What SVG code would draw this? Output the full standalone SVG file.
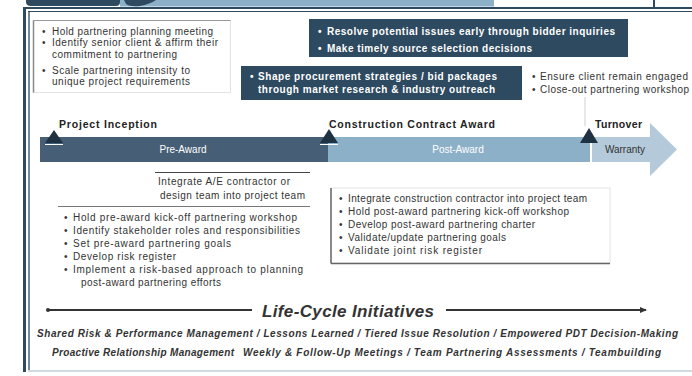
<svg xmlns="http://www.w3.org/2000/svg" width="692" height="376" viewBox="0 0 692 376">
<style>
text{font-family:"Liberation Sans",Arial,sans-serif;}
.t{font-size:10px;fill:#333;}
.w{font-size:10px;fill:#fff;font-weight:bold;}
.ms{font-size:10.5px;fill:#222;font-weight:bold;}
.bar{font-size:10px;fill:#fff;}
.li{font-size:10px;fill:#333;font-style:italic;font-weight:bold;}
.tri{fill:#1e3244;}
</style>
<defs>
<marker id="ah" markerWidth="8" markerHeight="8" refX="6" refY="4" orient="auto" markerUnits="userSpaceOnUse">
<path d="M0,1 L7,4 L0,7 Z" fill="#333"/>
</marker>
</defs>
<rect width="692" height="376" fill="#fff"/>
<g id="frame">
<rect x="120" y="0" width="374" height="6.5" fill="#8db0c9"/>
<path d="M26,0 H120 V2 Q120,6 116,6 H31 Q26,6 26,2 Z" fill="#2d4a60"/>
<path d="M124,0 H156 Q150,4 140,6 Q130,7 126,4 Z" fill="#2d4a60"/>
<line x1="654" y1="0" x2="654" y2="8" stroke="#2d4a60" stroke-width="2"/>
<line x1="23" y1="8" x2="692" y2="8" stroke="#2d4a60" stroke-width="2"/>
<line x1="28" y1="11.5" x2="692" y2="11.5" stroke="#2d4a60" stroke-width="1"/>
<line x1="24.5" y1="7" x2="24.5" y2="372" stroke="#2d4a60" stroke-width="3"/>
<line x1="29" y1="11" x2="29" y2="371" stroke="#2d4a60" stroke-width="1.3"/>
<line x1="28" y1="371" x2="692" y2="371" stroke="#d2dae0" stroke-width="2"/>
</g>
<g id="box-planning">
<rect x="33.5" y="20.5" width="197" height="72" fill="#fff" stroke="#e2e2e2"/>
<line x1="33.5" y1="20.5" x2="230.5" y2="20.5" stroke="#999"/>
<line x1="33.5" y1="20.5" x2="33.5" y2="92.5" stroke="#888" stroke-width="1.5"/>
<text class="t" x="42" y="35">•</text><text class="t" x="52" y="35" textLength="161">Hold partnering planning meeting</text>
<text class="t" x="42" y="46">•</text><text class="t" x="52" y="46" textLength="166">Identify senior client &amp; affirm their</text>
<text class="t" x="52" y="57.5" textLength="125">commitment to partnering</text>
<text class="t" x="42" y="73.5">•</text><text class="t" x="52" y="73.5" textLength="138">Scale partnering intensity to</text>
<text class="t" x="52" y="85" textLength="138">unique project requirements</text>
</g>
<g id="box-bidding">
<rect x="309" y="19" width="319" height="38" fill="#2d4a60"/>
<text class="w" x="318" y="34.5">•</text><text class="w" x="327" y="34.5" textLength="288">Resolve potential issues early through bidder inquiries</text>
<text class="w" x="318" y="51.5">•</text><text class="w" x="327" y="51.5" textLength="205">Make timely source selection decisions</text>
</g>
<g id="box-procurement">
<rect x="241" y="66" width="281" height="34" fill="#2d4a60"/>
<text class="w" x="250" y="79.5">•</text><text class="w" x="258" y="79.5" textLength="239">Shape procurement strategies / bid packages</text>
<text class="w" x="258" y="92.5" textLength="237">through market research &amp; industry outreach</text>
</g>
<g id="closeout-notes">
<text class="t" x="532" y="79.5">•</text><text class="t" x="540" y="79.5" textLength="148">Ensure client remain engaged</text>
<text class="t" x="532" y="92.5">•</text><text class="t" x="540" y="92.5" textLength="149">Close-out partnering workshop</text>
</g>
<g id="connectors">
<line x1="585" y1="97" x2="585" y2="126" stroke="#cfcfcf" stroke-width="1"/>
<line x1="155" y1="172.5" x2="310" y2="172.5" stroke="#444" stroke-width="1"/>
<line x1="58" y1="206.5" x2="310" y2="206.5" stroke="#777" stroke-width="1"/>
<line x1="48" y1="310" x2="252" y2="310" stroke="#333" stroke-width="2"/>
<circle cx="48" cy="310" r="2" fill="#333"/>
<line x1="446" y1="310" x2="646" y2="310" stroke="#333" stroke-width="2" marker-end="url(#ah)"/>
</g>
<g id="pre-award">
<rect x="40" y="137" width="288" height="25" fill="#475f76"/>
<text class="bar" x="183" y="153" text-anchor="middle">Pre-Award</text>
</g>
<g id="post-award">
<rect x="328" y="137" width="262" height="25" fill="#8db0c9"/>
<text class="bar" x="458" y="153" text-anchor="middle">Post-Award</text>
</g>
<g id="warranty">
<polygon points="592,137 650,137 650,123 677,149.5 650,176 650,162 592,162" fill="#b4cadb"/>
<text class="t" x="625" y="153" text-anchor="middle">Warranty</text>
</g>
<g id="milestone-inception">
<polygon class="tri" points="45,143 54,130 63,143"/>
<line x1="45" y1="144.5" x2="63" y2="144.5" stroke="#fff" stroke-width="1"/>
<text class="ms" x="59" y="128" textLength="98">Project Inception</text>
</g>
<g id="milestone-award">
<polygon class="tri" points="320,143 329,129 338,143"/>
<line x1="320" y1="144.5" x2="338" y2="144.5" stroke="#fff" stroke-width="1"/>
<text class="ms" x="329" y="128" textLength="166">Construction Contract Award</text>
</g>
<g id="milestone-turnover">
<polygon class="tri" points="580,143 589,128 598,143"/>
<text class="ms" x="595" y="128" textLength="47">Turnover</text>
</g>
<g id="integrate-ae">
<text class="t" x="158" y="184.5" textLength="132">Integrate A/E contractor or</text>
<text class="t" x="160" y="198.5" textLength="145">design team into project team</text>
</g>
<g id="pre-award-list">
<text class="t" x="64" y="220.5">•</text><text class="t" x="73" y="220.5" textLength="224">Hold pre-award kick-off partnering workshop</text>
<text class="t" x="64" y="233.5">•</text><text class="t" x="73" y="233.5" textLength="227">Identify stakeholder roles and responsibilities</text>
<text class="t" x="64" y="246.5">•</text><text class="t" x="73" y="246.5" textLength="158">Set pre-award partnering goals</text>
<text class="t" x="64" y="259.5">•</text><text class="t" x="73" y="259.5" textLength="103">Develop risk register</text>
<text class="t" x="64" y="272.5">•</text><text class="t" x="73" y="272.5" textLength="230">Implement a risk-based approach to planning</text>
<text class="t" x="81" y="285.5" textLength="140">post-award partnering efforts</text>
</g>
<g id="post-award-box">
<rect x="331" y="188" width="279" height="75" fill="#fff" stroke="#e4e4e4"/>
<line x1="331" y1="188" x2="331" y2="263.5" stroke="#666" stroke-width="1.5"/>
<line x1="331" y1="263.5" x2="610" y2="263.5" stroke="#666" stroke-width="1.5"/>
<text class="t" x="339" y="201.5">•</text><text class="t" x="348" y="201.5" textLength="239">Integrate construction contractor into project team</text>
<text class="t" x="339" y="214.7">•</text><text class="t" x="348" y="214.7" textLength="221">Hold post-award partnering kick-off workshop</text>
<text class="t" x="339" y="227.9">•</text><text class="t" x="348" y="227.9" textLength="187">Develop post-award partnering charter</text>
<text class="t" x="339" y="241.1">•</text><text class="t" x="348" y="241.1" textLength="158">Validate/update partnering goals</text>
<text class="t" x="339" y="254.3">•</text><text class="t" x="348" y="254.3" textLength="134">Validate joint risk register</text>
</g>
<g id="life-cycle">
<text x="262" y="316.5" font-size="17" font-weight="bold" font-style="italic" fill="#333" textLength="172">Life-Cycle Initiatives</text>
<text class="li" x="37" y="336.5" textLength="641">Shared Risk &amp; Performance Management / Lessons Learned / Tiered Issue Resolution / Empowered PDT Decision-Making</text>
<text class="li" x="52" y="355.5" textLength="182">Proactive Relationship Management</text>
<text class="li" x="243" y="355.5" textLength="418">Weekly &amp; Follow-Up Meetings / Team Partnering Assessments / Teambuilding</text>
</g>
</svg>
